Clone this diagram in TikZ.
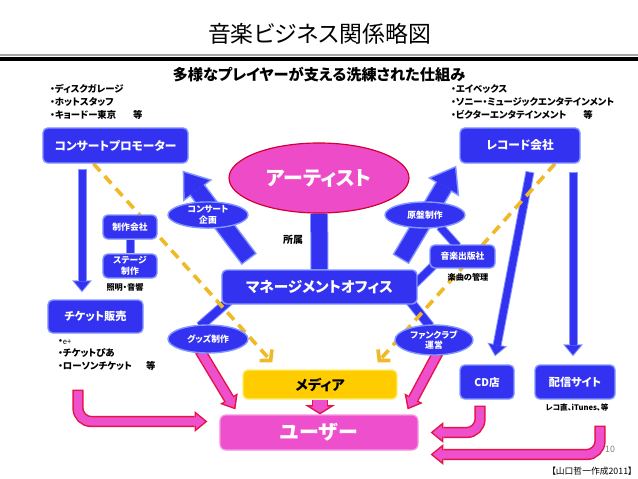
\documentclass[tikz,border=0pt]{standalone}
\usepackage{fontspec}
\setmainfont{Noto Sans CJK JP}[RawFeature=+palt]
\usetikzlibrary{shapes.geometric,arrows.meta,calc,backgrounds}

\definecolor{nodeblue}{RGB}{50,50,240}
\definecolor{edgeblue}{RGB}{130,150,255}
\definecolor{artpink}{RGB}{238,75,200}
\definecolor{artred}{RGB}{210,0,50}
\definecolor{userpink}{RGB}{238,80,205}
\definecolor{pinkedge}{RGB}{228,20,70}
\definecolor{mediayellow}{RGB}{255,204,0}
\definecolor{mediaedge}{RGB}{255,238,110}
\definecolor{dashorange}{RGB}{240,185,40}

\begin{document}
\begin{tikzpicture}[x=0.03cm, y=-0.03cm]
\useasboundingbox (0,0) rectangle (638,479);

\node (Title) at (319.5,34) {\fontsize{19.5}{21}\selectfont 音楽ビジネス関係略図};
\draw[gray!70, line width=0.04cm] (0,55) -- (638,55);
\fill[black] (0,57) rectangle (638,61.5);
\node[font=\bfseries\fontsize{13}{14}\selectfont] (Sub) at (319,75) {多様なプレイヤーが支える洗練された仕組み};

\tikzset{BoxStyle/.style = {
 rectangle,
 rounded corners = 4pt,
 fill = nodeblue,
 draw = edgeblue,
 line width = 1.2pt,
 text = white,
 inner sep = 0pt,
 align = center} }
\tikzset{OvalStyle/.style = {
 ellipse,
 fill = nodeblue,
 draw = edgeblue,
 line width = 1.2pt,
 text = white,
 inner sep = 0pt,
 align = center,
 minimum width = 2.4cm,
 font = \bfseries\fontsize{7.5}{9}\selectfont} }
\tikzset{ListStyle/.style = {anchor = west, align = left, inner sep = 0pt} }

\node[ListStyle, font=\bfseries\fontsize{8}{11}\selectfont] (ListL) at (50,102)
 {・ディスクガレージ\\・ホットスタッフ\\・キョードー東京\hspace{1.8em}等};
\node[ListStyle, font=\bfseries\fontsize{8}{11}\selectfont] (ListR) at (451,102)
 {・エイベックス\\・ソニー・ミュージックエンタテインメント\\・ビクターエンタテインメント\hspace{1.8em}等};

\node[BoxStyle, minimum width=4.35cm, minimum height=1.05cm, font=\bfseries\fontsize{10}{12}\selectfont] (Promo) at (115.5,145.5) {コンサートプロモーター};
\node[BoxStyle, minimum width=3.6cm, minimum height=1.05cm, font=\bfseries\fontsize{10}{12}\selectfont] (Rec) at (520,145.5) {レコード会社};
\node[ellipse, fill=artpink, draw=artred, line width=1pt, text=white, minimum width=5.4cm, minimum height=2.1cm, font=\bfseries\fontsize{17}{19}\selectfont] (Art) at (319,178) {アーティスト};
\node[BoxStyle, minimum width=5.85cm, minimum height=1.02cm, font=\bfseries\fontsize{12.5}{14}\selectfont] (Mgmt) at (319.5,287) {マネージメントオフィス};
\node[BoxStyle, minimum width=1.62cm, minimum height=0.72cm, font=\bfseries\fontsize{7.5}{9}\selectfont] (Prod) at (130,227) {制作会社};
\node[BoxStyle, minimum width=1.62cm, minimum height=0.72cm, font=\bfseries\fontsize{7.5}{9}\selectfont] (Stage) at (130,266) {ステージ\\制作};
\node[BoxStyle, minimum width=2.85cm, minimum height=0.99cm, font=\bfseries\fontsize{9.5}{11}\selectfont] (Tick) at (95.5,316.5) {チケット販売};
\node[BoxStyle, minimum width=1.95cm, minimum height=0.69cm, font=\bfseries\fontsize{7.5}{9}\selectfont] (Pub) at (462.5,256.5) {音楽出版社};
\node[OvalStyle, minimum height=0.78cm] (Conc) at (208,215) {コンサート\\企画};
\node[OvalStyle, minimum height=0.78cm] (Master) at (425,215) {原盤制作};
\node[OvalStyle, minimum height=0.84cm] (Goods) at (208,339) {グッズ制作};
\node[OvalStyle, minimum width=2.34cm, minimum height=0.9cm] (Fan) at (434,340) {ファンクラブ\\運営};
\node[rectangle, rounded corners=4pt, fill=mediayellow, draw=mediaedge, line width=1.2pt, minimum width=4.62cm, minimum height=0.87cm, font=\bfseries\fontsize{12}{14}\selectfont] (Med) at (320,384.5) {メディア};
\node[rectangle, rounded corners=5pt, fill=userpink, draw=userpink!60!white, line width=1pt, text=white, minimum width=5.94cm, minimum height=1.05cm, font=\bfseries\fontsize{17}{19}\selectfont] (User) at (319,432.5) {ユーザー};
\node[BoxStyle, minimum width=1.62cm, minimum height=1.02cm, font=\bfseries\fontsize{9}{11}\selectfont] (CD) at (487,382) {CD店};
\node[BoxStyle, minimum width=2.4cm, minimum height=1.02cm, font=\bfseries\fontsize{9.5}{11}\selectfont] (Dist) at (575,382) {配信サイト};

\node[ListStyle, font=\bfseries\fontsize{8}{10.5}\selectfont] (ListT) at (58,355)
 {・{\mdseries\fontsize{6.5}{8}\selectfont e+}\\・チケットぴあ\\・ローソンチケット\hspace{1.5em}等};
\node[font=\bfseries\fontsize{8.5}{10}\selectfont] (L1) at (293,240) {所属};
\node[font=\bfseries\fontsize{7}{8}\selectfont] (L2) at (125,287) {照明・音響};
\node[font=\bfseries\fontsize{7}{8}\selectfont] (L3) at (468,277) {楽曲の管理};
\node[font=\bfseries\fontsize{6.5}{8}\selectfont] (L4) at (577,408) {レコ直、iTunes、等};
\node[text=gray, font=\fontsize{7.5}{9}\selectfont] (L5) at (610,449) {10};
\node[font=\fontsize{7.5}{9}\selectfont] (L6) at (592,471) {【山口哲一作成2011】};

\tikzset{BlueBar/.style 2 args = {draw=nodeblue, line width=#1, preaction={draw=edgeblue, line width=#2}} }
\tikzset{FatArrow/.style = {draw=edgeblue, line width=0.57cm, -{Triangle[length=0.75cm,width=1.1cm,line width=0pt]},
 postaction={draw=nodeblue, line width=0.48cm, -{Triangle[length=0.63cm,width=0.92cm,line width=0pt]}, shorten >=0.076cm, shorten <=0.045cm}} }
\tikzset{ThinArrow/.style = {draw=edgeblue, line width=0.27cm, -{Triangle[length=0.36cm,width=0.6cm,line width=0pt]},
 postaction={draw=nodeblue, line width=0.21cm, -{Triangle[length=0.283cm,width=0.472cm,line width=0pt]}, shorten >=0.047cm, shorten <=0.03cm}} }
\tikzset{PinkArrow/.style = {draw=pinkedge, line width=0.34cm, -{Triangle[length=0.38cm,width=0.62cm,line width=0pt]},
 postaction={draw=userpink, line width=0.25cm, -{Triangle[length=0.264cm,width=0.43cm,line width=0pt]}, shorten >=0.071cm, shorten <=0.045cm}} }
\tikzset{StubArrow/.style = {draw=pinkedge, line width=0.5cm, -{Triangle[length=0.28cm,width=0.9cm,line width=0pt]},
 postaction={draw=userpink, line width=0.41cm, -{Triangle[length=0.182cm,width=0.586cm,line width=0pt]}, shorten >=0.053cm}} }
\tikzset{DashArrow/.style = {draw=dashorange, line width=0.11cm, dash pattern=on 0.3cm off 0.2cm, -{Straight Barb[length=0.22cm,width=0.5cm]}} }

\begin{pgfonlayer}{background}
\draw[BlueBar={0.48cm}{0.54cm}] (Art) -- (Mgmt);
\draw[BlueBar={0.21cm}{0.27cm}] (Prod) -- (Stage);
\draw[BlueBar={0.21cm}{0.27cm}] ($(Master.south)+(15,-2)$) -- ($(Pub.north)+(-5,2)$);
\draw[BlueBar={0.21cm}{0.27cm}] ($(Pub.south west)+(4,-3)$) -- ($(Mgmt.east)+(-3,-3)$);
\draw[BlueBar={0.24cm}{0.3cm}] ($(Mgmt.south west)+(8,-4)$) -- ($(Goods.north)+(-8,2)$);
\draw[BlueBar={0.24cm}{0.3cm}] ($(Mgmt.south east)+(-8,-4)$) -- ($(Fan.north)+(-4,2)$);

\draw[FatArrow] ($(Mgmt.north west)+(28,-10)$) -- ($(Promo.south east)+(-6,7)$);
\draw[FatArrow] ($(Mgmt.north east)+(-17,-10)$) -- ($(Rec.south west)+(-3,2)$);
\draw[ThinArrow] ($(Promo.south)+(-33.5,5)$) -- ($(Tick.north)+(-13.5,-7)$);
\draw[ThinArrow] ($(Rec.south)+(10,8)$) -- ($(CD.north)+(8,-8)$);
\draw[ThinArrow] ($(Rec.south)+(53,8)$) -- ($(Dist.north)+(-2,-8)$);

\draw[DashArrow] ($(Promo.south)+(-22,0)$) -- ($(Med.north west)+(30,-7)$);
\draw[DashArrow] ($(Rec.south)+(35,0)$) -- ($(Med.north east)+(-20,-7)$);

\draw[PinkArrow] ($(Goods.south)+(-8,-3)$) -- ($(User.north west)+(16,-5)$);
\draw[PinkArrow] ($(Fan.south)+(4,-3)$) -- ($(User.north east)+(-11,-5)$);
\draw[StubArrow] (Med) -- (Med |- User.north);
\draw[PinkArrow, rounded corners=0.4cm] ($(Tick.south)+(-17.5,56)$) |- ($(User.west)+(-12,-11)$);
\draw[PinkArrow, rounded corners=0.4cm] ($(CD.south)+(-7,6)$) |- ($(User.east)+(12,0)$);
\draw[PinkArrow, rounded corners=0.4cm] ($(Dist.south)+(25,26)$) |- ($(User.east)+(12,22)$);
\end{pgfonlayer}

\end{tikzpicture}
\end{document}
